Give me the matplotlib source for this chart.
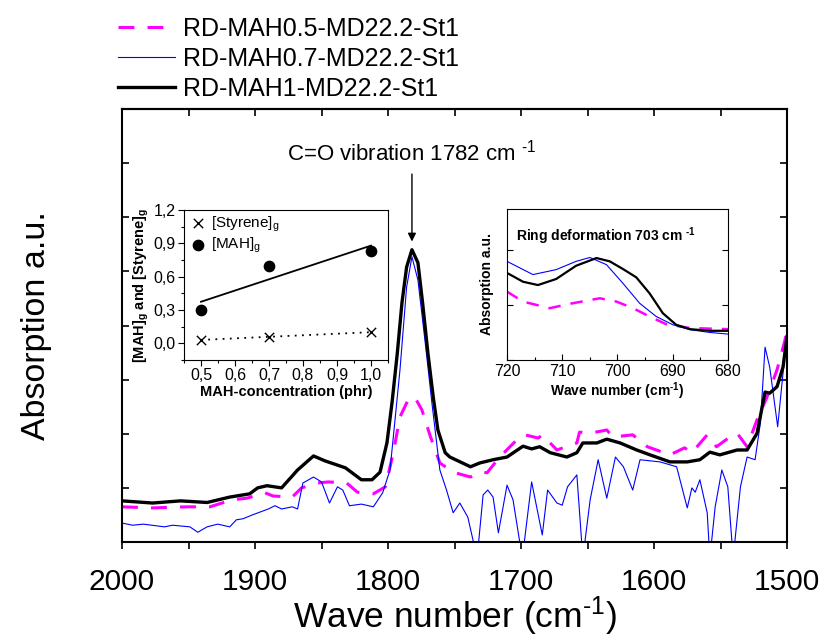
import numpy as np
import matplotlib
matplotlib.use("Agg")
import matplotlib.pyplot as plt
from matplotlib.ticker import MultipleLocator, FuncFormatter, NullFormatter

plt.rcParams["font.family"] = ["Liberation Sans", "DejaVu Sans"]
plt.rcParams["mathtext.default"] = "regular"

# ---- main FTIR spectra (wave number, absorption a.u.) ----
wn_mah05 = [2000, 1977, 1951, 1934, 1917, 1906, 1892.5, 1886.5, 1872, 1865, 1853, 1845,
            1831, 1823, 1811, 1802, 1796, 1791, 1785, 1780, 1774.5, 1768, 1761, 1751,
            1738, 1731, 1725.5, 1716, 1701, 1697, 1687, 1684, 1673, 1658, 1656, 1648,
            1635.5, 1631, 1616, 1605, 1588, 1577, 1571.5, 1560, 1553, 1543, 1537.5,
            1530, 1522.5, 1515, 1507.5, 1501.5, 1500]
abs_mah05 = [0.65, 0.63, 0.65, 0.65, 0.78, 0.81, 0.91, 0.85, 0.83, 1.00, 1.09, 1.11,
             1.09, 0.92, 0.89, 1.02, 1.65, 2.31, 2.62, 2.68, 2.44, 1.94, 1.46, 1.29,
             1.20, 1.29, 1.28, 1.57, 1.94, 1.98, 1.92, 1.98, 1.70, 1.83, 2.03, 2.01,
             2.07, 1.94, 1.98, 1.76, 1.61, 1.74, 1.65, 1.98, 1.76, 1.94, 2.01,
             1.76, 2.26, 2.68, 3.18, 3.73, 3.97]

wn_mah07 = [2000, 1992, 1984, 1968, 1962, 1949, 1943, 1936, 1928, 1919, 1914, 1909,
            1902, 1890, 1885, 1880, 1872, 1868, 1864, 1856, 1850, 1844, 1838, 1834,
            1829, 1820, 1811, 1804, 1798.5, 1796, 1791, 1786, 1782, 1777.5, 1772,
            1767, 1761, 1756, 1751, 1746, 1740, 1733, 1728.5, 1725, 1721, 1717,
            1710.5, 1706, 1699, 1692, 1684, 1680, 1673, 1669, 1665, 1658, 1653.5,
            1648, 1642, 1635.5, 1629, 1623, 1616, 1610.5, 1595.5, 1583, 1575, 1571.5,
            1569, 1565.5, 1560, 1558, 1554, 1549, 1544.5, 1540.5, 1535, 1530, 1524,
            1520, 1516.5, 1513, 1507, 1503, 1500]
abs_mah07 = [0.35, 0.31, 0.33, 0.28, 0.31, 0.28, 0.18, 0.28, 0.33, 0.28, 0.41, 0.43,
             0.50, 0.61, 0.67, 0.61, 0.65, 0.61, 1.09, 1.20, 1.11, 0.72, 1.02, 0.96,
             0.67, 0.70, 0.65, 0.91, 1.33, 1.94, 3.18, 4.71, 5.27, 4.84, 3.68,
             2.57, 1.33, 0.96, 0.54, 0.72, 0.46, -0.30, 0.87, 0.96, 0.83, 0.17,
             1.05, 0.78, -0.30, 1.11, 0.13, 0.96, 0.72, 0.68, 1.02, 1.24, -0.30,
             0.78, 1.52, 0.81, 1.57, 1.39, 0.96, 1.52, 1.48, 1.39, 0.63, 1.00,
             0.92, 1.15, 0.54, -0.30, 0.65, 1.33, 1.02, -0.30, 1.02, 1.57, 1.52,
             2.20, 3.60, 3.23, 2.13, 3.12, 3.92]

wn_mah1 = [2000, 1977, 1956, 1936, 1919, 1904, 1898, 1891, 1880, 1868, 1856, 1847.5,
           1832, 1820, 1812, 1806, 1800.8, 1797, 1793, 1789.5, 1786, 1782, 1777.5,
           1774, 1770, 1766, 1762.5, 1757, 1753.5, 1738, 1731, 1721, 1710.5, 1698.5,
           1692, 1686, 1678, 1665.5, 1658, 1653.5, 1643, 1635.5, 1625.5, 1613, 1603,
           1588, 1575, 1565.5, 1558, 1550.5, 1537.5, 1530, 1522.5, 1516.5, 1513,
           1507.5, 1503, 1500]
abs_mah1 = [0.76, 0.72, 0.76, 0.73, 0.83, 0.89, 1.00, 1.04, 1.00, 1.33, 1.59, 1.50,
            1.37, 1.15, 1.15, 1.29, 1.83, 2.57, 3.49, 4.42, 5.08, 5.40, 5.16,
            4.42, 3.49, 2.68, 2.07, 1.65, 1.57, 1.39, 1.46, 1.52, 1.57, 1.77,
            1.72, 1.76, 1.65, 1.57, 1.65, 1.83, 1.83, 1.90, 1.83, 1.70, 1.61,
            1.48, 1.48, 1.52, 1.66, 1.61, 1.70, 1.70, 2.01, 2.77, 2.75,
            2.87, 3.23, 3.79]

series_labels = ["RD-MAH0.5-MD22.2-St1", "RD-MAH0.7-MD22.2-St1", "RD-MAH1-MD22.2-St1"]

# ---- left inset: grafting degree vs MAH concentration ----
mah_conc = [0.5, 0.7, 1.0]
styrene_g = [0.03, 0.06, 0.10]
mah_g = [0.30, 0.70, 0.83]

# ---- right inset: ring deformation band ----
wn_ring_blue = [720, 715.3, 711.1, 707.5, 705.0, 702.0, 699.0, 696.0, 693.0, 690.0, 686.9, 683.3, 680]
abs_ring_blue = [1.79, 1.55, 1.64, 1.79, 1.86, 1.73, 1.39, 1.03, 0.79, 0.64, 0.55, 0.50, 0.47]
wn_ring_black = [720, 717.1, 714.4, 711.1, 707.5, 703.8, 701.4, 699.0, 696.6, 694.2, 691.8, 689.4, 686.9, 683.3, 680]
abs_ring_black = [1.58, 1.42, 1.36, 1.47, 1.71, 1.85, 1.79, 1.65, 1.50, 1.21, 0.85, 0.64, 0.56, 0.53, 0.53]
wn_ring_mag = [720, 717.1, 712.3, 708.1, 703.2, 700.2, 697.2, 694.2, 691.2, 686.9, 680]
abs_ring_mag = [1.24, 1.06, 0.94, 1.03, 1.12, 1.06, 0.94, 0.79, 0.65, 0.58, 0.56]

MAG = "#FF00FF"
BLUE = "#0000FF"
W, H = 829, 638
INV_CM = "cm $^{\u2010 1}$"  # spaced hyphen-style superscript as in the original


def fig_rect(x0, y0, x1, y1):
    """Pixel box -> figure fraction rect."""
    return [x0 / W, 1 - y1 / H, (x1 - x0) / W, (y1 - y0) / H]


def comma(v, pos):
    return f"{v:.1f}".replace(".", ",")


fig = plt.figure(figsize=(W / 100, H / 100), dpi=100)
ax = fig.add_axes(fig_rect(122, 109, 787, 542))

l_mag, = ax.plot(wn_mah05, abs_mah05, color=MAG, lw=2.2, dashes=(5.2, 4.3), label=series_labels[0])
l_blue, = ax.plot(wn_mah07, abs_mah07, color=BLUE, lw=0.8, label=series_labels[1])
l_black, = ax.plot(wn_mah1, abs_mah1, color="black", lw=2.4, label=series_labels[2])

ax.set_xlim(2000, 1500)
ax.set_ylim(0, 8)
ax.xaxis.set_major_locator(MultipleLocator(50))
ax.xaxis.set_major_formatter(FuncFormatter(lambda v, p: f"{v:.0f}" if round(v) % 100 == 0 else ""))
ax.yaxis.set_major_locator(MultipleLocator(1))
ax.yaxis.set_major_formatter(NullFormatter())
ax.tick_params(axis="x", direction="out", length=5, width=1.2, labelsize=21.5, pad=14)
ax.tick_params(axis="y", direction="in", length=5, width=1.2, left=True, right=True)
for s in ax.spines.values():
    s.set_linewidth(1.5)
top = ax.secondary_xaxis("top")
top.xaxis.set_major_locator(MultipleLocator(50))
top.xaxis.set_major_formatter(NullFormatter())
top.tick_params(direction="in", length=5, width=1.2)
top.spines["top"].set_linewidth(1.5)

ax.set_xlabel("Wave number (cm$^{\u2010 1}$)", fontsize=25.5, labelpad=-1)
ax.set_ylabel("Absorption a.u.", fontsize=24.5, labelpad=47)

ax.annotate("", xy=(1782, 5.50), xytext=(1782, 6.85),
            arrowprops=dict(arrowstyle="-|>", color="black", lw=1.0, mutation_scale=12))
ax.text(1782, 6.95, "C=O vibration 1782 " + INV_CM, ha="center", va="bottom", fontsize=16)

fig.legend(handles=[l_mag, l_blue, l_black], loc="upper left",
           bbox_to_anchor=(118 / W, 1 - 17 / H), frameon=False, fontsize=18,
           handlelength=2.3, handletextpad=0.3, labelspacing=0.24, borderpad=0,
           borderaxespad=0)

# left inset
ax1 = fig.add_axes(fig_rect(184, 210, 388, 360))
ax1.scatter(mah_conc, styrene_g, marker="x", color="black", s=45, lw=1.0, label="[Styrene]$_g$", zorder=3)
ax1.scatter(mah_conc, mah_g, marker="o", color="black", s=55, label="[MAH]$_g$", zorder=3)
xs = np.array([0.5, 1.0])
p_mah = np.polyfit(mah_conc, mah_g, 1)
p_sty = np.polyfit(mah_conc, styrene_g, 1)
ax1.plot(xs, np.polyval(p_mah, xs), color="black", lw=1.3)
ax1.plot(xs, np.polyval(p_sty, xs), color="black", lw=1.3, ls=(0, (1, 3)))
ax1.set_xlim(0.45, 1.05)
ax1.set_ylim(-0.15, 1.2)
ax1.xaxis.set_major_locator(MultipleLocator(0.1))
ax1.xaxis.set_minor_locator(MultipleLocator(0.05))
ax1.yaxis.set_major_locator(MultipleLocator(0.3))
ax1.yaxis.set_minor_locator(MultipleLocator(0.15))
ax1.xaxis.set_major_formatter(FuncFormatter(comma))
ax1.yaxis.set_major_formatter(FuncFormatter(comma))
ax1.tick_params(which="both", direction="out", labelsize=11.5, width=0.8, pad=2)
ax1.tick_params(which="major", length=4)
ax1.tick_params(which="minor", length=2)
ax1.set_xlabel("MAH-concentration (phr)", fontsize=10.5, fontweight="bold", labelpad=1)
ax1.set_ylabel("[MAH]$_g$ and [Styrene]$_g$", fontsize=10.5, fontweight="bold", labelpad=2)
ax1.legend(loc="upper left", frameon=False, fontsize=11, handletextpad=0.3,
           borderpad=0.1, labelspacing=0.15, borderaxespad=0.2, handlelength=1.2)

# right inset
ax2 = fig.add_axes(fig_rect(507, 209, 728, 360))
ax2.plot(wn_ring_mag, abs_ring_mag, color=MAG, lw=1.8, dashes=(5, 4))
ax2.plot(wn_ring_blue, abs_ring_blue, color=BLUE, lw=0.8)
ax2.plot(wn_ring_black, abs_ring_black, color="black", lw=1.6)
ax2.set_xlim(720, 680)
ax2.set_ylim(0, 2.74)
ax2.xaxis.set_major_locator(MultipleLocator(10))
ax2.xaxis.set_minor_locator(MultipleLocator(5))
ax2.yaxis.set_major_locator(MultipleLocator(1))
ax2.yaxis.set_major_formatter(NullFormatter())
ax2.tick_params(which="both", direction="in", labelsize=11.5, width=0.8, right=True, pad=3)
ax2.tick_params(which="major", length=4)
ax2.tick_params(which="minor", length=2)
ax2.set_xlabel("Wave number (cm$^{\u2010 1}$)", fontsize=10, fontweight="bold", labelpad=1)
ax2.set_ylabel("Absorption a.u.", fontsize=10, fontweight="bold", labelpad=6)
ax2.text(0.04, 0.82, "Ring deformation 703 " + INV_CM, transform=ax2.transAxes,
         fontsize=10, fontweight="bold", va="center")

fig.savefig("out.png", dpi=100)
